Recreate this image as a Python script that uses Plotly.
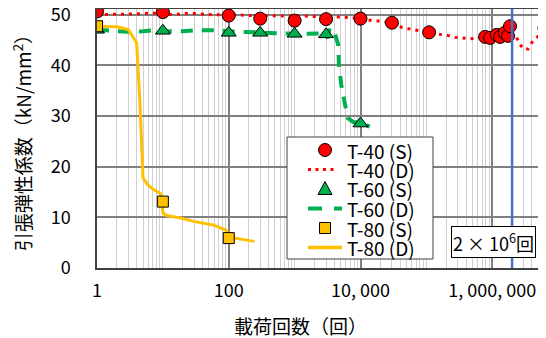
import plotly.graph_objects as go

# ---- data ----
t40_s_n = [1, 10, 100, 300, 1000, 3000, 10000, 30000, 110000, 780000, 930000,
           1170000, 1320000, 1550000, 1740000, 1860000, 6200000]
t40_s_e = [50.6, 50.5, 49.8, 49.2, 48.8, 49.1, 49.2, 48.4, 46.5, 45.6, 45.4,
           46.0, 45.6, 46.4, 45.8, 47.7, 47.3]

t40_d_n = [1, 1.5, 2.2, 3.3, 5, 7, 10, 15, 22, 33, 50, 70, 100, 150, 220, 330, 500,
           700, 1000, 1500, 2200, 3300, 5000, 7000, 10000, 15500, 20000, 27000,
           42000, 54000, 71000, 100000, 160000, 210000, 270000, 350000, 460000,
           600000, 800000, 1000000, 1300000, 1700000, 2000000, 2300000, 2600000,
           3000000, 3500000, 4000000, 4800000, 6200000]
t40_d_e = [50.0, 50.0, 50.1, 50.1, 50.2, 50.3, 50.1, 50.0, 50.2, 50.2, 50.0, 50.0,
           49.9, 49.9, 49.8, 49.8, 49.7, 49.8, 49.7, 49.7, 49.6, 49.6, 49.5, 49.4,
           49.2, 48.8, 48.7, 48.4, 47.5, 47.2, 46.9, 46.5, 46.1, 45.9, 45.5, 45.4,
           45.2, 45.4, 45.6, 45.6, 45.8, 46.0, 46.2, 45.7, 44.2, 43.2, 43.2, 44.5,
           45.5, 47.0]

t60_s_n = [1, 10, 100, 300, 1000, 3000, 10000]
t60_s_e = [47.0, 46.8, 46.4, 46.4, 46.2, 46.1, 28.5]

t60_d_n = [1, 1.5, 2, 3, 5, 7, 10, 15, 20, 30, 50, 70, 100, 150, 200, 300, 500,
           700, 1000, 1500, 2000, 2800, 3200, 3400, 4000, 4600, 4700, 5100, 5700,
           6400, 7800, 10200, 13800]
t60_d_e = [47.0, 46.8, 46.8, 46.6, 46.7, 46.9, 46.7, 46.6, 46.7, 46.9, 47.0, 46.9,
           46.7, 46.6, 46.5, 46.4, 46.3, 46.3, 46.2, 46.2, 46.2, 46.3, 45.4, 47.3,
           46.7, 44.0, 40.1, 36.2, 32.9, 29.6, 28.8, 28.6, 27.9]

t80_s_n = [1, 10, 100]
t80_s_e = [47.7, 13.1, 5.9]

t80_d_n = [1, 1.5, 2, 2.5, 3, 4, 4.5, 5, 5.9, 7.4, 9.4, 10, 11.2, 13, 18, 29, 58,
           90, 105, 120, 245]
t80_d_e = [47.7, 47.7, 47.6, 47.3, 47.0, 44.4, 32.2, 17.8, 16.4, 15.4, 14.6, 10.9,
           10.4, 10.2, 9.9, 9.2, 8.5, 7.5, 6.2, 5.9, 5.25]

target_n = 2e6  # 2×10^6 cycles
y_ticks = [0, 10, 20, 30, 40, 50]
x_major = [1, 100, 10000, 1000000]
x_major_text = ["1", "100", "10, 000", "1, 000, 000"]
legend_names = ["T-40 (S)", "T-40 (D)", "T-60 (S)", "T-60 (D)", "T-80 (S)", "T-80 (D)"]

# ---- styling ----
RED, GREEN, YEL, BLUE = "#FF0000", "#00B050", "#FFC000", "#4472C4"
FONT = "Noto Sans CJK JP"
X_RANGE = [0, 6.816]
Y_RANGE = [0, 51.1]

# page has an 8px body margin; the plot area sits at page px x 97..546, y 9..268
PL, PR, PT, PB = 97, 546, 9, 268


def px_x(x):
    return (x - PL) / (PR - PL)


def px_y(y):
    return (PB - y) / (PB - PT)


minor_vals = [k * 10 ** d for d in range(0, 7) for k in range(1, 10)]
minor_text = [x_major_text[x_major.index(v)] if v in x_major else "" for v in minor_vals]

fig = go.Figure()

fig.add_trace(go.Scatter(x=[target_n, target_n], y=Y_RANGE, mode="lines",
                         line=dict(color=BLUE, width=2.5), showlegend=False,
                         hoverinfo="skip", xaxis="x2"))
fig.add_trace(go.Scatter(x=t60_d_n, y=t60_d_e, mode="lines", name=legend_names[3],
                         line=dict(color=GREEN, width=4, dash="12px,9px")))
fig.add_trace(go.Scatter(x=t40_d_n, y=t40_d_e, mode="lines", name=legend_names[1],
                         line=dict(color=RED, width=3, dash="3px,5px")))
fig.add_trace(go.Scatter(x=t80_d_n, y=t80_d_e, mode="lines", name=legend_names[5],
                         line=dict(color=YEL, width=3)))
fig.add_trace(go.Scatter(x=t60_s_n, y=t60_s_e, mode="markers", name=legend_names[2],
                         marker=dict(symbol="triangle-up", size=13, color=GREEN,
                                     line=dict(color="#000000", width=1))))
fig.add_trace(go.Scatter(x=t40_s_n, y=t40_s_e, mode="markers", name=legend_names[0],
                         marker=dict(symbol="circle", size=13, color=RED,
                                     line=dict(color="#000000", width=1))))
fig.add_trace(go.Scatter(x=t80_s_n, y=t80_s_e, mode="markers", name=legend_names[4],
                         marker=dict(symbol="square", size=11, color=YEL,
                                     line=dict(color="#000000", width=1))))

# ---- hand-drawn legend (compact rows as in the reference) ----
LX0, LX1, LY0, LY1 = 287, 433, 137, 259
rows = [150, 169.5, 189, 208.5, 228, 247.5]
sym_x = 325
shapes = [dict(type="rect", xref="paper", yref="paper", x0=px_x(LX0), x1=px_x(LX1),
               y0=px_y(LY1), y1=px_y(LY0), fillcolor="white",
               line=dict(color="#404040", width=1), layer="above")]
shapes.append(dict(type="circle", xref="paper", yref="paper", xsizemode="pixel",
                   ysizemode="pixel", xanchor=px_x(sym_x), yanchor=px_y(rows[0]),
                   x0=-6.5, x1=6.5, y0=-6.5, y1=6.5, fillcolor=RED,
                   line=dict(color="#000000", width=1), layer="above"))
shapes.append(dict(type="line", xref="paper", yref="paper", x0=px_x(308), x1=px_x(335),
                   y0=px_y(rows[1]), y1=px_y(rows[1]),
                   line=dict(color=RED, width=3, dash="3px,4.5px"), layer="above"))
shapes.append(dict(type="path", xref="paper", yref="paper", xsizemode="pixel",
                   ysizemode="pixel", xanchor=px_x(sym_x), yanchor=px_y(rows[2]),
                   path="M -7 -5.5 L 7 -5.5 L 0 7.5 Z", fillcolor=GREEN,
                   line=dict(color="#000000", width=1), layer="above"))
shapes.append(dict(type="line", xref="paper", yref="paper", x0=px_x(308), x1=px_x(342),
                   y0=px_y(rows[3]), y1=px_y(rows[3]),
                   line=dict(color=GREEN, width=4, dash="14px,12px"), layer="above"))
shapes.append(dict(type="rect", xref="paper", yref="paper", xsizemode="pixel",
                   ysizemode="pixel", xanchor=px_x(sym_x), yanchor=px_y(rows[4]),
                   x0=-5.5, x1=5.5, y0=-5.5, y1=5.5, fillcolor=YEL,
                   line=dict(color="#000000", width=1), layer="above"))
shapes.append(dict(type="line", xref="paper", yref="paper", x0=px_x(308), x1=px_x(342),
                   y0=px_y(rows[5]), y1=px_y(rows[5]),
                   line=dict(color=YEL, width=3.5), layer="above"))

annotations = [
    dict(text=name, x=px_x(345), y=px_y(r), xref="paper", yref="paper",
         xanchor="left", yanchor="middle", showarrow=False,
         font=dict(family=FONT, size=19, color="#000000"))
    for name, r in zip(legend_names, rows)
]
annotations += [
    dict(text="2 × 10<sup>6</sup>回", x=px_x(493), y=px_y(242), xref="paper", yref="paper",
         xanchor="center", yanchor="middle", showarrow=False,
         bgcolor="white", bordercolor="#000000", borderwidth=1, borderpad=1,
         font=dict(family=FONT, size=18, color="#000000")),
    dict(text="載荷回数（回）", x=px_x(300), y=px_y(325), xref="paper", yref="paper",
         xanchor="center", yanchor="middle", showarrow=False,
         font=dict(family=FONT, size=19, color="#000000")),
    dict(text="引張弾性係数（kN/mm<sup>2</sup>）", x=px_x(21.7), y=0.5, xref="paper",
         yref="paper", xanchor="center", yanchor="middle", textangle=-90,
         showarrow=False, font=dict(family=FONT, size=19, color="#000000")),
]

fig.update_layout(
    width=538, height=330,
    margin=dict(l=89, r=0, t=1, b=70, autoexpand=False),
    paper_bgcolor="white", plot_bgcolor="white",
    font=dict(family=FONT, size=18, color="#000000"),
    showlegend=False,
    xaxis=dict(type="log", range=X_RANGE, tickvals=minor_vals, ticktext=minor_text,
               showgrid=True, gridcolor="#D0D0D0", gridwidth=1,
               ticks="outside", ticklen=6, tickcolor="rgba(0,0,0,0)",
               showline=True, linecolor="#404040", linewidth=1.5, mirror=True,
               zeroline=False, tickfont=dict(family=FONT, size=18),
               ticklabeloverflow="allow"),
    xaxis2=dict(type="log", range=X_RANGE, overlaying="x", side="bottom",
                tickvals=x_major, showticklabels=False, showgrid=True,
                gridcolor="#808080", gridwidth=1.5, showline=False, zeroline=False),
    yaxis=dict(range=Y_RANGE, tickvals=y_ticks, showgrid=True, gridcolor="#808080",
               gridwidth=1.5, showline=True, linecolor="#404040", linewidth=1.5,
               mirror=True, zeroline=False, ticks="", ticklabelstandoff=21,
               ticklabeloverflow="allow", tickfont=dict(family=FONT, size=18)),
    shapes=shapes,
    annotations=annotations,
)

fig.write_html("out.html")
